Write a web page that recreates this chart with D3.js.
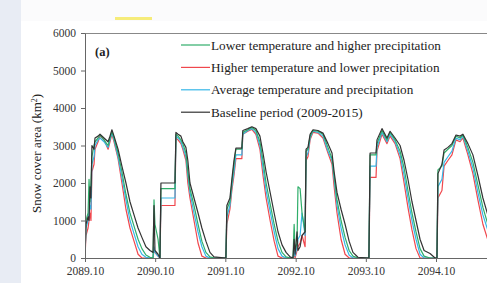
<!DOCTYPE html>
<html>
<head>
<meta charset="utf-8">
<script src="https://cdn.jsdelivr.net/npm/d3@7"></script>
<style>
  body { margin: 0; background: #fbfbfc; }
  svg { display: block; }
</style>
</head>
<body>
<div class="line-chart-container"></div>
<script>
// dates of the simulated daily snow cover
const dates = [
  '2089-10-01','2089-10-06','2089-10-17','2089-10-22','2089-10-27','2089-11-01','2089-11-06','2089-11-17','2089-11-22','2089-12-08',
  '2089-12-18','2090-01-08','2090-01-29','2090-02-08','2090-02-18','2090-03-01','2090-03-22','2090-04-11','2090-05-02','2090-05-23',
  '2090-06-13','2090-07-04','2090-07-24','2090-08-14','2090-09-04','2090-09-20','2090-09-25','2090-09-30','2090-10-16','2090-10-26',
  '2090-10-31','2091-01-12','2091-01-17','2091-01-28','2091-02-12','2091-02-22','2091-03-10','2091-03-20','2091-03-31','2091-04-21',
  '2091-05-12','2091-06-01','2091-06-22','2091-07-13','2091-08-03','2091-10-04','2091-10-09','2091-10-25','2091-11-04','2091-11-15',
  '2091-11-25','2091-12-26','2091-12-31','2092-01-26','2092-02-16','2092-03-08','2092-03-29','2092-04-14','2092-04-30','2092-05-21',
  '2092-06-11','2092-07-01','2092-07-22','2092-08-12','2092-09-02','2092-09-17','2092-09-23','2092-09-28','2092-10-08','2092-10-13',
  '2092-10-24','2092-11-03','2092-11-19','2092-11-24','2092-12-04','2092-12-15','2092-12-30','2093-01-25','2093-02-20','2093-03-18',
  '2093-04-08','2093-04-19','2093-05-04','2093-05-25','2093-06-15','2093-07-06','2093-07-26','2093-08-21','2093-10-17','2093-10-23',
  '2093-11-23','2093-11-28','2093-12-24','2094-01-19','2094-02-04','2094-03-02','2094-03-28','2094-04-18','2094-05-08','2094-05-29',
  '2094-06-19','2094-07-10','2094-07-31','2094-08-31','2094-09-26','2094-10-06','2094-10-11','2094-11-01','2094-11-12','2094-12-02',
  '2094-12-23','2095-01-13','2095-02-03','2095-02-18','2095-03-16','2095-04-11','2095-05-07','2095-06-02','2095-07-09'
];

// Baseline period (2009-2015)
const baseline = [
  0,900,1100,1000,1900,1600,3000,2900,3200,3250,
  3300,3200,3100,3250,3420,3250,2900,2450,2000,1500,
  1150,800,550,300,200,150,1400,200,100,0,
  2000,2000,3350,3300,3250,3100,2950,2600,2000,1600,
  1200,800,450,150,30,0,1400,1600,2100,2600,
  2930,2930,3400,3450,3500,3450,3250,2800,2300,1750,
  1200,700,350,150,30,0,500,100,700,200,
  300,600,700,2900,2950,3300,3420,3400,3330,3050,
  2800,2300,1750,1300,900,450,150,20,0,2800,
  2800,3150,3450,3200,3380,3200,3000,2600,2100,1500,
  1000,500,200,120,0,0,2250,2500,2880,2950,
  3050,3280,3250,3300,3050,2750,2200,1600,950
];

// Lower temperature and higher precipitation
const lowTempHighPrec = [
  0,1000,1200,2100,1500,2000,2700,3000,3100,3200,
  3280,3150,3000,3200,3380,3200,2800,2300,1700,1200,
  850,500,250,80,20,0,1550,900,500,0,
  1850,1850,3300,3250,3150,3050,2800,2300,1850,1400,
  900,450,150,30,0,0,1300,1500,2000,2500,
  2900,2900,3350,3420,3480,3400,3100,2600,2000,1450,
  900,450,150,30,0,0,900,200,400,1900,
  1850,1200,700,2850,2900,3250,3400,3380,3300,2950,
  2650,2200,1550,1000,550,200,50,0,0,2750,
  2750,3050,3400,3150,3350,3150,2850,2400,1800,1200,
  700,250,50,0,0,0,2350,2450,2800,2900,
  3000,3250,3200,3280,2950,2550,1950,1350,700
];

// Higher temperature and lower precipitation
const highTempLowPrec = [
  0,600,800,1000,1200,1000,2300,2500,2900,3100,
  3250,3150,2900,3100,3300,3100,2650,2000,1300,800,
  450,100,0,0,0,0,200,150,50,0,
  1400,1400,3200,3150,3050,2900,2600,2000,1600,1000,
  400,50,0,0,0,0,900,1300,1800,2200,
  2650,2650,3300,3380,3430,3300,2900,2200,1600,1000,
  450,50,0,0,0,0,100,0,200,300,
  400,600,300,2600,2700,3150,3350,3330,3200,2800,
  2500,1900,1200,500,100,0,0,0,0,2150,
  2150,2850,3300,3050,3250,3050,2650,2000,1350,750,
  250,0,0,0,0,0,1600,1800,2450,2600,
  2750,3150,3100,3200,2750,2250,1550,900,300
];

// Average temperature and precipitation
const avgTempPrec = [
  0,800,1000,1200,1400,1300,2500,2700,3000,3150,
  3200,3100,2950,3150,3330,3150,2700,2150,1550,1000,
  650,300,100,20,0,0,300,150,50,0,
  1600,1600,3250,3200,3100,2950,2700,2200,1750,1200,
  700,300,50,0,0,0,1100,1400,1900,2300,
  2750,2750,3300,3400,3450,3350,3000,2400,1800,1250,
  700,250,50,0,0,0,200,50,300,500,
  600,1200,600,2700,2800,3200,3380,3350,3250,2850,
  2600,2100,1400,800,350,80,0,0,0,2450,
  2450,2950,3350,3100,3300,3100,2750,2200,1600,1000,
  500,100,0,0,0,0,1900,2100,2550,2700,
  2850,3200,3150,3250,2850,2400,1750,1150,550
];

const yTicks = [0, 1000, 2000, 3000, 4000, 5000, 6000];
const xTickLabels = ['2089.10', '2090.10', '2091.10', '2092.10', '2093.10', '2094.10'];
const seriesNames = [
  'Lower temperature and higher precipitation',
  'Higher temperature and lower precipitation',
  'Average temperature and precipitation',
  'Baseline period (2009-2015)'
];
const seriesColors = ['#2fae6a', '#f0474d', '#36b7e8', '#333333'];

(function(){
    const serif = '"Liberation Serif", "Times New Roman", serif';
    const parseDate = d3.timeParse('%Y-%m-%d');
    const parseTick = d3.timeParse('%Y.%m');

    function prepareSeries() {
        const valuesList = [lowTempHighPrec, highTempLowPrec, avgTempPrec, baseline];
        return seriesNames.map((name, i) => ({
            name: name,
            color: seriesColors[i],
            values: dates.map((d, j) => ({ date: parseDate(d), value: valuesList[i][j] }))
        }));
    }

    function styleAxis(g) {
        g.attr('font-family', serif).attr('font-size', 11.5);
        g.selectAll('text').style('font-family', serif).style('font-size', '11.5px').style('fill', '#333');
        g.selectAll('line, path').style('stroke', '#666');
    }

    function setupCanvas(series) {
        const svg_width = 487;
        const svg_height = 283;
        const plot = { left: 85, top: 33, bottom: 258, right: 487 };

        const svg = d3.select('.line-chart-container').append('svg')
            .attr('width', svg_width).attr('height', svg_height);

        // page decoration: left strip and white panel
        svg.append('rect').attr('x', 0).attr('y', 0).attr('width', 21).attr('height', svg_height)
            .style('fill', '#e8ecf4');
        svg.append('rect').attr('x', 21).attr('y', 21).attr('width', svg_width - 21).attr('height', svg_height - 21)
            .style('fill', '#ffffff');
        svg.append('rect').attr('x', 115).attr('y', 17).attr('width', 37).attr('height', 3)
            .style('fill', '#f6ec7a');

        //scale
        const tickDates = xTickLabels.map(parseTick);
        const xScale = d3.scaleTime()
            .domain([tickDates[0], tickDates[tickDates.length - 1]])
            .range([plot.left, 436]);
        const yScale = d3.scaleLinear().domain([0, 6000]).range([plot.bottom, plot.top]);

        svg.append('clipPath').attr('id', 'plot-clip')
            .append('rect')
            .attr('x', plot.left).attr('y', plot.top - 2)
            .attr('width', plot.right - plot.left).attr('height', plot.bottom - plot.top + 2);

        // top frame line runs to the cut edge
        svg.append('line').attr('x1', plot.left).attr('x2', plot.right)
            .attr('y1', plot.top + 0.5).attr('y2', plot.top + 0.5)
            .style('stroke', '#888').style('stroke-width', 1);

        //line generator
        const lineGen = d3.line()
            .x(d => xScale(d.date))
            .y(d => yScale(d.value));

        // draw order: red, cyan, green, black on top
        const drawOrder = [series[1], series[2], series[0], series[3]];
        svg.append('g').attr('class', 'line-chart').attr('clip-path', 'url(#plot-clip)')
            .selectAll('.line-series').data(drawOrder).enter()
            .append('path')
            .attr('class', 'line-series')
            .attr('d', d => lineGen(d.values))
            .style('fill', 'none')
            .style('stroke', d => d.color)
            .style('stroke-width', 1.2)
            .style('stroke-linejoin', 'round');

        //Draw X axis
        const xAxis = d3.axisBottom(xScale)
            .tickValues(tickDates)
            .tickFormat((d, i) => xTickLabels[i])
            .tickSize(4).tickSizeOuter(0).tickPadding(5);
        const xg = svg.append('g').attr('class', 'x axis')
            .attr('transform', `translate(0,${plot.bottom})`)
            .call(xAxis);
        xg.select('.domain').remove();
        xg.append('line').attr('x1', plot.left).attr('x2', plot.right)
            .attr('y1', 0.5).attr('y2', 0.5);
        styleAxis(xg);

        //Draw Y axis
        const yAxis = d3.axisLeft(yScale)
            .tickValues(yTicks)
            .tickFormat(d3.format('d'))
            .tickSize(4).tickSizeOuter(0).tickPadding(5);
        const yg = svg.append('g').attr('class', 'y axis')
            .attr('transform', `translate(${plot.left},0)`)
            .call(yAxis);
        styleAxis(yg);

        // y label
        const ylab = svg.append('text')
            .attr('transform', `translate(41,${(plot.top + plot.bottom) / 2 + 8}) rotate(-90)`)
            .style('text-anchor', 'middle')
            .style('font-family', serif)
            .style('font-size', '13px').style('fill', '#222');
        ylab.append('tspan').text('Snow cover area (km');
        ylab.append('tspan').text('2').attr('baseline-shift', 'super').style('font-size', '8px');
        ylab.append('tspan').text(')');

        // panel tag
        svg.append('text').attr('x', 95).attr('y', 56).text('(a)')
            .style('font-family', serif)
            .style('font-size', '12.5px').style('font-weight', 'bold').style('fill', '#222');

        // legend
        const legend = svg.append('g').attr('class', 'legend')
            .selectAll('.legend-item').data(series).enter()
            .append('g')
            .attr('transform', (d, i) => `translate(181,${45 + i * 22.4})`);
        legend.append('line')
            .attr('x1', 0).attr('x2', 29).attr('y1', 0).attr('y2', 0)
            .style('stroke', d => d.color).style('stroke-width', 1.2);
        legend.append('text')
            .attr('x', 30).attr('y', 0)
            .style('dominant-baseline', 'central')
            .style('font-family', serif)
            .style('font-size', '13.2px').style('fill', '#222')
            .text(d => d.name);
    }

    setupCanvas(prepareSeries());
})();
</script>
</body>
</html>
